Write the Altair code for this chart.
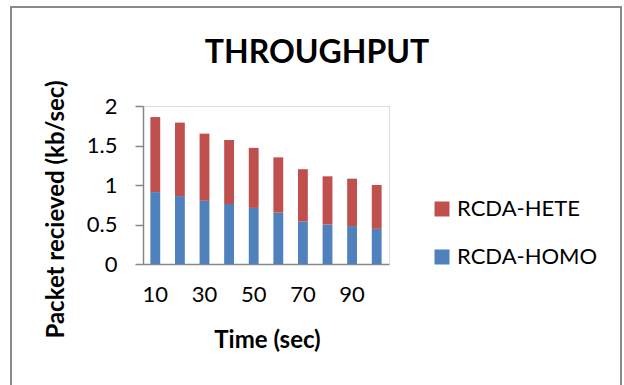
import altair as alt
import pandas as pd

times = [10, 20, 30, 40, 50, 60, 70, 80, 90, 100]
homo = [0.91, 0.86, 0.80, 0.76, 0.71, 0.65, 0.54, 0.50, 0.48, 0.445]
hete = [0.95, 0.93, 0.85, 0.81, 0.76, 0.70, 0.66, 0.61, 0.60, 0.555]
series = ["RCDA-HETE", "RCDA-HOMO"]
colors = ["#C0504D", "#4F81BD"]
x_labels = [10, 30, 50, 70, 90]
y_ticks = [0, 0.5, 1, 1.5, 2]

rows = []
for t, h, e in zip(times, homo, hete):
    rows.append({"Time": t, "Series": "RCDA-HOMO", "Value": h, "ord": 0})
    rows.append({"Time": t, "Series": "RCDA-HETE", "Value": e, "ord": 1})
df = pd.DataFrame(rows)

FONT = "Lato"
AX = "#868686"

bars = alt.Chart(df).mark_bar().encode(
    x=alt.X("Time:O",
            scale=alt.Scale(paddingInner=0.6, paddingOuter=0.3),
            axis=alt.Axis(values=x_labels, labelAngle=0, ticks=False,
                          labelPadding=20, labelFontSize=22, labelFont=FONT,
                          labelColor="black", domainColor=AX, domainWidth=1.5,
                          title="Time (sec)", titleFont=FONT, titleFontSize=24,
                          titleFontWeight="bold", titleColor="black",
                          titleX=124, titleY=76, titleBaseline="middle",
                          titleAlign="center")),
    y=alt.Y("Value:Q", stack="zero",
            scale=alt.Scale(domain=[0, 2], nice=False),
            axis=alt.Axis(values=y_ticks, format="~g", grid=False, tickSize=8,
                          tickColor=AX, tickWidth=1.5, domainColor=AX,
                          domainWidth=1.5, labelPadding=18, labelFontSize=22,
                          labelFont=FONT, labelColor="black",
                          title="Packet recieved (kb/sec)", titleFont=FONT,
                          titleFontSize=24, titleFontWeight="bold",
                          titleColor="black", titleAngle=-90,
                          titleX=-87, titleY=103, titleAlign="center",
                          titleBaseline="middle")),
    color=alt.Color("Series:N",
                    scale=alt.Scale(domain=series, range=colors),
                    legend=alt.Legend(title=None, orient="none", legendX=288,
                                      legendY=92, symbolType="square",
                                      symbolSize=225, symbolStrokeWidth=0,
                                      labelFontSize=22, labelFont=FONT,
                                      labelColor="black", labelOffset=4,
                                      rowPadding=26)),
    order=alt.Order("ord:Q"),
)

frame = alt.Chart(df).mark_rect(fill=None, stroke="#8a8a8a", strokeWidth=2).encode(
    x=alt.value(-132), x2=alt.value(478), y=alt.value(-99), y2=alt.value(300)
)

chart = alt.layer(frame, bars).properties(
    width=246, height=158,
    autosize=alt.AutoSizeParams(type="none"),
    padding={"left": 143, "top": 106, "right": 235, "bottom": 121},
    title=alt.Title("THROUGHPUT", font=FONT, fontSize=32, fontWeight="bold",
                    color="black", anchor="middle", dx=51, dy=68),
).configure_view(stroke=None).configure(background="white")

chart.save("out.html", embed_options={"renderer": "svg", "actions": False})
